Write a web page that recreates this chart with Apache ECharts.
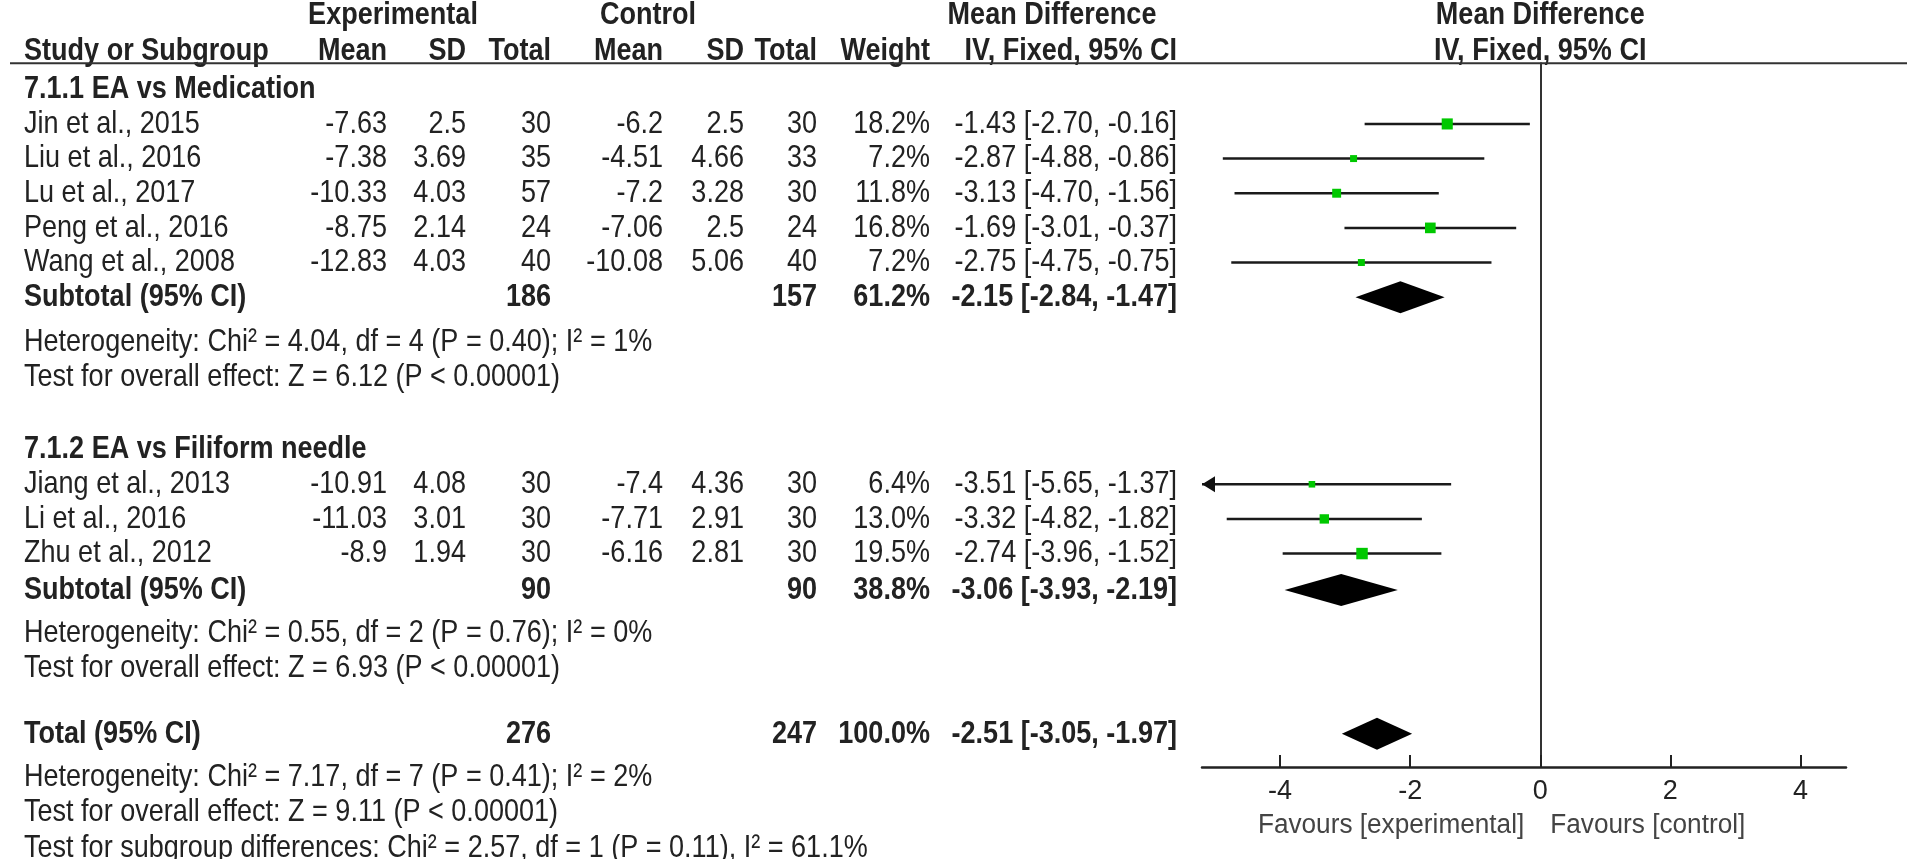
<!DOCTYPE html>
<html lang="en">
  <head>
    <meta charset="UTF-8" />
    <title>Forest plot</title>
    <script src="https://cdn.jsdelivr.net/npm/echarts@6/dist/echarts.min.js"></script>
    <style>
      html, body { margin: 0; padding: 0; background: #fff; }
      #chart { width: 1907px; height: 859px; }
    </style>
  </head>
  <body>
    <div id="chart"></div>
    <script>
      // studies, in the order they appear
      const studies = ["Jin et al., 2015", "Liu et al., 2016", "Lu et al., 2017", "Peng et al., 2016",
        "Wang et al., 2008", "Jiang et al., 2013", "Li et al., 2016", "Zhu et al., 2012"];
      const expMean = [-7.63, -7.38, -10.33, -8.75, -12.83, -10.91, -11.03, -8.9];
      const expSD = [2.5, 3.69, 4.03, 2.14, 4.03, 4.08, 3.01, 1.94];
      const expN = [30, 35, 57, 24, 40, 30, 30, 30];
      const ctlMean = [-6.2, -4.51, -7.2, -7.06, -10.08, -7.4, -7.71, -6.16];
      const ctlSD = [2.5, 4.66, 3.28, 2.5, 5.06, 4.36, 2.91, 2.81];
      const ctlN = [30, 33, 30, 24, 40, 30, 30, 30];
      const weight = [18.2, 7.2, 11.8, 16.8, 7.2, 6.4, 13.0, 19.5];
      const md = [-1.43, -2.87, -3.13, -1.69, -2.75, -3.51, -3.32, -2.74];
      const ciLow = [-2.70, -4.88, -4.70, -3.01, -4.75, -5.65, -4.82, -3.96];
      const ciHigh = [-0.16, -0.86, -1.56, -0.37, -0.75, -1.37, -1.82, -1.52];
      // row index of each study (rows are counted down from the first subgroup heading)
      const studyRow = [1.05, 2.05, 3.05, 4.05, 5.05, 11.45, 12.45, 13.45];

      // subgroups + overall
      const groupNames = ["7.1.1 EA vs Medication", "7.1.2 EA vs Filiform needle"];
      const groupRow = [0.05, 10.45];
      const sumLabels = ["Subtotal (95% CI)", "Subtotal (95% CI)", "Total (95% CI)"];
      const sumRow = [6.05, 14.5, 18.65];
      const sumExpN = [186, 90, 276];
      const sumCtlN = [157, 90, 247];
      const sumWeight = [61.2, 38.8, 100.0];
      const sumMd = [-2.15, -3.06, -2.51];
      const sumLow = [-2.84, -3.93, -3.05];
      const sumHigh = [-1.47, -2.19, -1.97];

      const noteLines = [
        "Heterogeneity: Chi² = 4.04, df = 4 (P = 0.40); I² = 1%",
        "Test for overall effect: Z = 6.12 (P < 0.00001)",
        "Heterogeneity: Chi² = 0.55, df = 2 (P = 0.76); I² = 0%",
        "Test for overall effect: Z = 6.93 (P < 0.00001)",
        "Heterogeneity: Chi² = 7.17, df = 7 (P = 0.41); I² = 2%",
        "Test for overall effect: Z = 9.11 (P < 0.00001)",
        "Test for subgroup differences: Chi² = 2.57, df = 1 (P = 0.11), I² = 61.1%"
      ];
      const noteRow = [7.35, 8.35, 15.75, 16.75, 19.9, 20.9, 21.95];

      const xTicks = [-4, -2, 0, 2, 4];
      const xMin = -5.2, xMax = 4.7;
      const rowMin = -0.7, rowMax = 19.61;

      const FONT = '"Liberation Sans", Arial, sans-serif';
      const TXT = "#222";
      const SQUEEZE = 0.845;

      let chart = echarts.init(document.getElementById("chart"));

      const studyData = md.map((m, i) => [m, studyRow[i], ciLow[i], ciHigh[i], weight[i]]);
      const diamondData = sumMd.map((m, i) => [m, sumRow[i], sumLow[i], sumHigh[i]]);

      chart.setOption({
        backgroundColor: "#fff",
        animation: false,
        grid: { left: 1202, right: 61, top: 63.3, bottom: 92 },
        xAxis: {
          type: "value",
          min: xMin,
          max: xMax,
          splitLine: { show: false },
          axisLine: { show: true, onZero: false, lineStyle: { color: "#222", width: 2.5 } },
          axisTick: { show: true, inside: true, length: 12, customValues: xTicks, lineStyle: { color: "#222", width: 2 } },
          axisLabel: { customValues: xTicks, fontSize: 27, fontFamily: FONT, color: TXT, margin: 11 }
        },
        yAxis: {
          type: "value",
          inverse: true,
          min: rowMin,
          max: rowMax,
          splitLine: { show: false },
          axisLine: { show: true, onZero: true, lineStyle: { color: "#333", width: 2 } },
          axisTick: { show: false },
          axisLabel: { show: false }
        },
        series: [
          {
            type: "custom",
            data: studyData,
            clip: false,
            renderItem: function (params, api) {
              const r = api.value(1);
              const lo = api.value(2), hi = api.value(3), w = api.value(4);
              const c = api.coord([api.value(0), r]);
              const pl = api.coord([Math.max(lo, xMin), r]);
              const ph = api.coord([Math.min(hi, xMax), r]);
              const s = 2.6 * Math.sqrt(w);
              const kids = [
                { type: "line", shape: { x1: pl[0], y1: pl[1], x2: ph[0], y2: ph[1] }, style: { stroke: "#1a1a1a", lineWidth: 2.5 } },
                { type: "rect", shape: { x: c[0] - s / 2, y: c[1] - s / 2, width: s, height: s }, style: { fill: "#00c800" } }
              ];
              if (lo < xMin) {
                kids.push({ type: "polygon", shape: { points: [[pl[0], pl[1]], [pl[0] + 13, pl[1] - 8], [pl[0] + 13, pl[1] + 8]] }, style: { fill: "#111" } });
              }
              return { type: "group", children: kids };
            }
          },
          {
            type: "custom",
            data: diamondData,
            renderItem: function (params, api) {
              const r = api.value(1);
              const c = api.coord([api.value(0), r]);
              const pl = api.coord([api.value(2), r]);
              const ph = api.coord([api.value(3), r]);
              const h = 16;
              return {
                type: "polygon",
                shape: { points: [[pl[0], c[1]], [c[0], c[1] - h], [ph[0], c[1]], [c[0], c[1] + h]] },
                style: { fill: "#000" }
              };
            }
          }
        ]
      });

      // table text, placed on the same rows as the plot
      const yPix = (r) => chart.convertToPixel({ yAxisIndex: 0 }, r);
      const xPix = (v) => chart.convertToPixel({ xAxisIndex: 0 }, v);
      let els = [];
      function txt(s, x, r, align, bold, size, color, sx) {
        els.push({
          type: "text",
          x: x,
          y: yPix(r),
          scaleX: sx || SQUEEZE,
          silent: true,
          style: {
            text: s,
            fill: color || TXT,
            font: (bold ? "bold " : "") + (size || 32) + "px " + FONT,
            textAlign: align,
            textVerticalAlign: "middle",
            align: align,
            verticalAlign: "middle"
          }
        });
      }

      const colName = 24;
      const cols = [387, 466, 551, 663, 744, 817, 930, 1177];
      const ci = (m, l, h) => m.toFixed(2) + " [" + l.toFixed(2) + ", " + h.toFixed(2) + "]";

      // headers
      txt("Experimental", 393, -2.1, "center", true);
      txt("Control", 648, -2.1, "center", true);
      txt("Mean Difference", 1052, -2.1, "center", true);
      txt("Mean Difference", xPix(0), -2.1, "center", true);
      txt("Study or Subgroup", colName, -1.05, "left", true);
      ["Mean", "SD", "Total", "Mean", "SD", "Total", "Weight", "IV, Fixed, 95% CI"].forEach((h, i) => txt(h, cols[i], -1.05, "right", true));
      txt("IV, Fixed, 95% CI", xPix(0), -1.05, "center", true);
      els.push({
        type: "line",
        silent: true,
        shape: { x1: 10, y1: yPix(rowMin), x2: 1907, y2: yPix(rowMin) },
        style: { stroke: "#333", lineWidth: 2 }
      });

      groupNames.forEach((g, i) => txt(g, colName, groupRow[i], "left", true));

      studies.forEach((s, i) => {
        const r = studyRow[i];
        txt(s, colName, r, "left");
        const vals = [String(expMean[i]), String(expSD[i]), String(expN[i]), String(ctlMean[i]),
          String(ctlSD[i]), String(ctlN[i]), weight[i].toFixed(1) + "%", ci(md[i], ciLow[i], ciHigh[i])];
        vals.forEach((v, j) => txt(v, cols[j], r, "right"));
      });

      sumLabels.forEach((s, i) => {
        const r = sumRow[i];
        txt(s, colName, r, "left", true);
        txt(String(sumExpN[i]), cols[2], r, "right", true);
        txt(String(sumCtlN[i]), cols[5], r, "right", true);
        txt(sumWeight[i].toFixed(1) + "%", cols[6], r, "right", true);
        txt(ci(sumMd[i], sumLow[i], sumHigh[i]), cols[7], r, "right", true);
      });

      noteLines.forEach((s, i) => txt(s, colName, noteRow[i], "left"));

      // favours labels under the axis
      txt("Favours [experimental]", xPix(0) - 16, 21.3, "right", false, 27, "#444", 0.97);
      txt("Favours [control]", xPix(0) + 10, 21.3, "left", false, 27, "#444", 0.97);

      chart.setOption({ graphic: { elements: els } });
    </script>
  </body>
</html>
